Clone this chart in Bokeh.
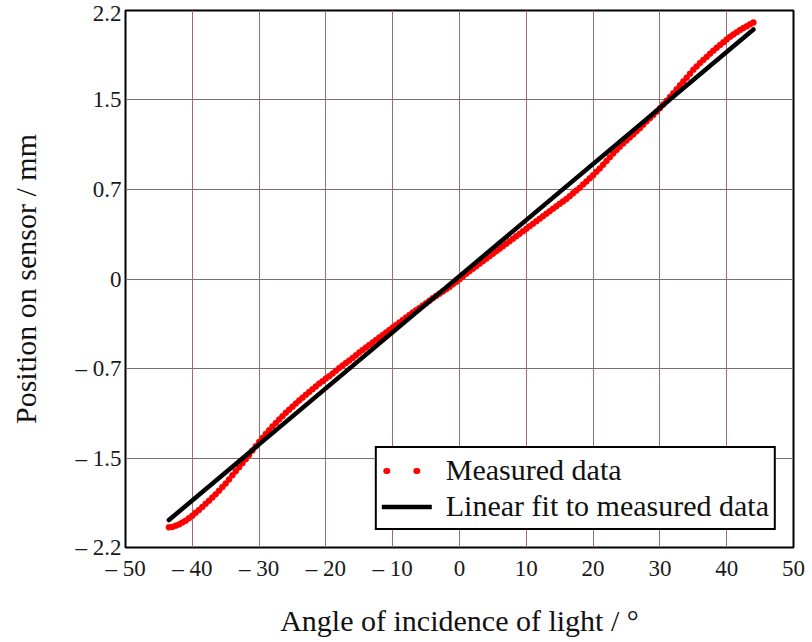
from bokeh.plotting import figure
from bokeh.models import Range1d, FixedTicker, Legend, LegendItem, ColumnDataSource
from bokeh.embed import file_html
from bokeh.resources import INLINE

# ---- data ----
angle = [-43.5, -43.0, -42.5, -42.0, -41.5, -41.0, -40.5, -40.0, -39.5, -39.0,
         -38.5, -38.0, -37.5, -37.0, -36.5, -36.0, -35.5, -35.0, -34.5, -34.0,
         -33.5, -33.0, -32.5, -32.0, -31.5, -31.0, -30.5, -30.0, -29.5, -29.0,
         -28.5, -28.0, -27.5, -27.0, -26.5, -26.0, -25.5, -25.0, -24.5, -24.0,
         -23.5, -23.0, -22.5, -22.0, -21.5, -21.0, -20.5, -20.0, -19.5, -19.0,
         -18.5, -18.0, -17.5, -17.0, -16.5, -16.0, -15.5, -15.0, -14.5, -14.0,
         -13.5, -13.0, -12.5, -12.0, -11.5, -11.0, -10.5, -10.0, -9.5, -9.0,
         -8.5, -8.0, -7.5, -7.0, -6.5, -6.0, -5.5, -5.0, -4.5, -4.0,
         -3.5, -3.0, -2.5, -2.0, -1.5, -1.0, -0.5, 0.0, 0.5, 1.0,
         1.5, 2.0, 2.5, 3.0, 3.5, 4.0, 4.5, 5.0, 5.5, 6.0,
         6.5, 7.0, 7.5, 8.0, 8.5, 9.0, 9.5, 10.0, 10.5, 11.0,
         11.5, 12.0, 12.5, 13.0, 13.5, 14.0, 14.5, 15.0, 15.5, 16.0,
         16.5, 17.0, 17.5, 18.0, 18.5, 19.0, 19.5, 20.0, 20.5, 21.0,
         21.5, 22.0, 22.5, 23.0, 23.5, 24.0, 24.5, 25.0, 25.5, 26.0,
         26.5, 27.0, 27.5, 28.0, 28.5, 29.0, 29.5, 30.0, 30.5, 31.0,
         31.5, 32.0, 32.5, 33.0, 33.5, 34.0, 34.5, 35.0, 35.5, 36.0,
         36.5, 37.0, 37.5, 38.0, 38.5, 39.0, 39.5, 40.0, 40.5, 41.0,
         41.5, 42.0, 42.5, 43.0, 43.5, 44.0]
position = [-2.035, -2.032, -2.022, -2.011, -1.996, -1.980, -1.960, -1.939, -1.916, -1.893,
            -1.868, -1.842, -1.817, -1.791, -1.763, -1.735, -1.705, -1.675, -1.642, -1.609,
            -1.576, -1.543, -1.510, -1.477, -1.442, -1.406, -1.371, -1.335, -1.302, -1.269,
            -1.239, -1.208, -1.180, -1.152, -1.124, -1.096, -1.071, -1.046, -1.021, -0.995,
            -0.972, -0.949, -0.926, -0.903, -0.880, -0.857, -0.837, -0.816, -0.796, -0.775,
            -0.752, -0.729, -0.709, -0.688, -0.668, -0.647, -0.625, -0.602, -0.582, -0.561,
            -0.541, -0.520, -0.500, -0.479, -0.459, -0.438, -0.418, -0.397, -0.377, -0.356,
            -0.336, -0.315, -0.295, -0.274, -0.256, -0.238, -0.218, -0.198, -0.178, -0.157,
            -0.139, -0.121, -0.103, -0.085, -0.065, -0.044, -0.024, -0.003, 0.020, 0.043,
            0.064, 0.084, 0.105, 0.125, 0.146, 0.166, 0.187, 0.207, 0.227, 0.247,
            0.268, 0.288, 0.309, 0.329, 0.350, 0.370, 0.391, 0.411, 0.432, 0.452,
            0.473, 0.493, 0.514, 0.534, 0.555, 0.575, 0.596, 0.616, 0.636, 0.656,
            0.679, 0.702, 0.725, 0.748, 0.774, 0.799, 0.825, 0.850, 0.878, 0.906,
            0.937, 0.967, 0.998, 1.028, 1.056, 1.084, 1.110, 1.135, 1.160, 1.185,
            1.211, 1.236, 1.264, 1.292, 1.318, 1.343, 1.371, 1.399, 1.430, 1.460,
            1.491, 1.521, 1.554, 1.587, 1.618, 1.648, 1.681, 1.714, 1.742, 1.769,
            1.795, 1.820, 1.846, 1.871, 1.894, 1.917, 1.940, 1.963, 1.984, 2.004,
            2.022, 2.040, 2.056, 2.071, 2.087, 2.102]

fit_angle = [-43.5, 44.0]
fit_position = [-1.975, 2.045]

x_ticks = [-50, -40, -30, -20, -10, 0, 10, 20, 30, 40, 50]
x_tick_labels = ["\u2013 50", "\u2013 40", "\u2013 30", "\u2013 20", "\u2013 10",
                 "0", "10", "20", "30", "40", "50"]
y_ticks = [-2.2, -1.4667, -0.7333, 0.0, 0.7333, 1.4667, 2.2]
y_tick_labels = ["\u2013 2.2", "\u2013 1.5", "\u2013 0.7", "0", "0.7", "1.5", "2.2"]

series_names = ["Measured data", "Linear fit to measured data"]

FONT = "Liberation Serif"

p = figure(width=812, height=642, output_backend="svg", toolbar_location=None,
           x_range=Range1d(-50, 50), y_range=Range1d(-2.2, 2.2),
           min_border_left=125, min_border_right=19, min_border_top=10,
           min_border_bottom=95)

p.background_fill_color = "white"
p.border_fill_color = "white"
p.outline_line_color = "black"
p.outline_line_width = 2

p.xaxis.ticker = FixedTicker(ticks=x_ticks)
p.yaxis.ticker = FixedTicker(ticks=y_ticks)
p.xaxis.major_label_overrides = dict(zip(x_ticks, x_tick_labels))
p.yaxis.major_label_overrides = dict(zip(y_ticks, y_tick_labels))
p.xgrid.ticker = FixedTicker(ticks=x_ticks)
p.ygrid.ticker = FixedTicker(ticks=y_ticks)

p.xgrid.grid_line_color = "#9a6e6e"
p.ygrid.grid_line_color = "#7d6e6e"
p.xgrid.grid_line_width = 1
p.ygrid.grid_line_width = 1

for ax in (p.xaxis, p.yaxis):
    ax.axis_line_color = None
    ax.major_tick_line_color = None
    ax.minor_tick_line_color = None
    ax.major_tick_in = 0
    ax.major_tick_out = 0
    ax.minor_tick_in = 0
    ax.minor_tick_out = 0
    ax.major_label_text_font = FONT
    ax.major_label_text_font_size = "23px"
    ax.major_label_text_color = "#1a1a1a"
    ax.axis_label_text_font = FONT
    ax.axis_label_text_font_size = "30px"
    ax.axis_label_text_font_style = "normal"
    ax.axis_label_text_color = "#111111"

p.xaxis.axis_label = "Angle of incidence of light / \u00b0"
p.yaxis.axis_label = "Position on sensor / mm"
p.xaxis.major_label_standoff = 8
p.yaxis.major_label_standoff = 4
p.xaxis.axis_label_standoff = 20
p.yaxis.axis_label_standoff = 31

src = ColumnDataSource(dict(x=angle, y=position))
r_meas = p.scatter("x", "y", source=src, size=6, marker="circle",
                   fill_color="#ff0000", line_color="#ff0000", line_width=0.5)
r_fit = p.line(fit_angle, fit_position, line_color="black", line_width=4.5,
               line_cap="round")
# legend-only glyph for measured data (a dotted red line, draws nothing in the plot)
nan = float("nan")
r_meas_leg = p.line([nan], [nan], line_color="#ff0000", line_width=6,
                    line_dash="1 29", line_dash_offset=26, line_cap="round")

legend = Legend(items=[LegendItem(label=series_names[0], renderers=[r_meas_leg]),
                       LegendItem(label=series_names[1], renderers=[r_fit])],
                location="bottom_right")
legend.margin = 17
legend.padding = 5
legend.spacing = 2
legend.glyph_width = 50
legend.glyph_height = 33
legend.label_height = 33
legend.label_standoff = 14
legend.label_text_font = FONT
legend.label_text_font_size = "30px"
legend.label_text_color = "#111111"
legend.border_line_color = "black"
legend.border_line_width = 2
legend.border_line_alpha = 1.0
legend.background_fill_color = "white"
legend.background_fill_alpha = 1.0
p.add_layout(legend)

open("out.html", "w").write(file_html(p, INLINE))
